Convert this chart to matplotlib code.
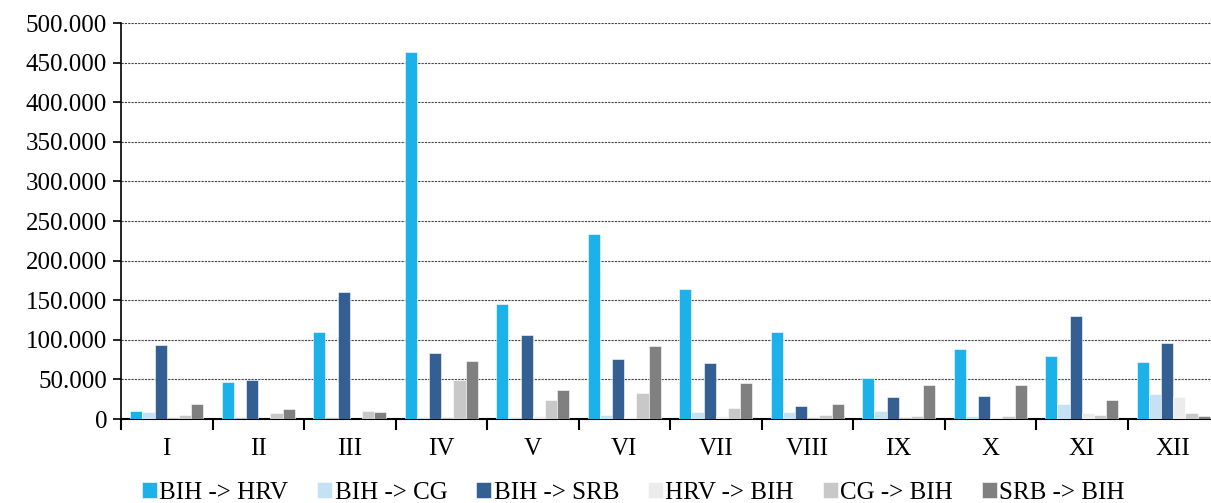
import numpy as np
import matplotlib.pyplot as plt
from matplotlib.ticker import FuncFormatter

plt.rcParams['font.family'] = ['Liberation Serif', 'DejaVu Serif']

months = ["I", "II", "III", "IV", "V", "VI", "VII", "VIII", "IX", "X", "XI", "XII"]
series = ["BIH -> HRV", "BIH -> CG", "BIH -> SRB", "HRV -> BIH", "CG -> BIH", "SRB -> BIH"]

bih_hrv = [9700, 46300, 110000, 463500, 145000, 233000, 164000, 110300, 51400, 89000, 79700, 71600]
bih_cg = [8800, 1000, 1000, 3000, 2000, 5000, 8800, 8800, 10100, 3800, 19000, 31600]
bih_srb = [93800, 49000, 160000, 83700, 106500, 76200, 70700, 16400, 27400, 28600, 130000, 96100]
hrv_bih = [1000, 500, 500, 1000, 4000, 3000, 4000, 1000, 1000, 2500, 7600, 27200]
cg_bih = [5000, 7500, 10500, 49300, 23600, 32500, 13500, 4700, 3800, 3800, 5500, 7600]
srb_bih = [18500, 12200, 8800, 72900, 36600, 92200, 45000, 18500, 42500, 43400, 24000, 3300]

colors = ["#1cb1e8", "#c5e2f5", "#345f93", "#ececec", "#c8c8c8", "#808080"]
values = [bih_hrv, bih_cg, bih_srb, hrv_bih, cg_bih, srb_bih]

fig = plt.figure(figsize=(12.11, 5.03), dpi=100)
ax = fig.add_axes([121 / 1211, 84 / 503, 1098 / 1211, 396 / 503])

x = np.arange(len(months))
w = 0.8 / 6
for i, (vals, c, name) in enumerate(zip(values, colors, series)):
    ax.bar(x - 0.4 + w * (i + 0.5), vals, w, color=c, label=name,
           edgecolor="white", linewidth=0.4, zorder=3)

ax.set_xlim(-0.5, 11.5)
ax.set_ylim(0, 500000)
ax.set_yticks(np.arange(0, 500001, 50000))
ax.yaxis.set_major_formatter(FuncFormatter(lambda v, p: f"{int(v):,}".replace(",", ".")))
ax.grid(axis="y", color="#444444", linestyle=(0, (2, 1)), linewidth=0.8, zorder=0)

ax.set_xticks(np.arange(-0.5, 12, 1))
ax.set_xticklabels([])
ax.set_xticks(x, minor=True)
ax.set_xticklabels(months, minor=True)
ax.tick_params(axis="x", which="major", length=8, width=1.5, direction="out")
ax.tick_params(axis="x", which="minor", length=0, pad=14, labelsize=18)
ax.tick_params(axis="y", length=6, width=1.2, labelsize=18, pad=4)

for s in ["top", "right"]:
    ax.spines[s].set_visible(False)
ax.spines["left"].set_linewidth(1.2)
ax.spines["bottom"].set_linewidth(1.5)

fig.legend(loc="center", bbox_to_anchor=(0.523, 0.02), ncol=6, frameon=False,
           fontsize=18, handlelength=0.6, handleheight=0.6, handletextpad=0.1,
           columnspacing=1.15, borderaxespad=0)

fig.savefig("out.png", dpi=100)
